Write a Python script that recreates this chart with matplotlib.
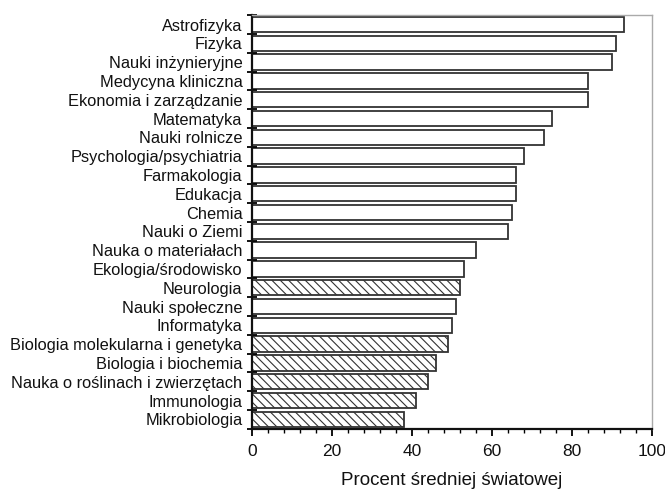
import numpy as np
import matplotlib
matplotlib.use('Agg')
import matplotlib.pyplot as plt
from matplotlib.ticker import MultipleLocator

plt.rcParams['font.family'] = ['Liberation Sans', 'DejaVu Sans']
plt.rcParams['hatch.linewidth'] = 0.8
plt.rcParams['hatch.color'] = '#444444'

# dziedziny (od gory do dolu)
fields = ["Astrofizyka", "Fizyka", "Nauki inżynieryjne", "Medycyna kliniczna",
          "Ekonomia i zarządzanie", "Matematyka", "Nauki rolnicze",
          "Psychologia/psychiatria", "Farmakologia", "Edukacja", "Chemia",
          "Nauki o Ziemi", "Nauka o materiałach", "Ekologia/środowisko",
          "Neurologia", "Nauki społeczne", "Informatyka",
          "Biologia molekularna i genetyka", "Biologia i biochemia",
          "Nauka o roślinach i zwierzętach", "Immunologia", "Mikrobiologia"]
values = [93, 91, 90, 84, 84, 75, 73, 68, 66, 66, 65, 64, 56, 53,
          52, 51, 50, 49, 46, 44, 41, 38]
hatched = [False, False, False, False, False, False, False, False, False,
           False, False, False, False, False, True, False, False, True,
           True, True, True, True]

fig = plt.figure(figsize=(6.65, 4.9), dpi=100)
ax = fig.add_axes([0.379, 0.125, 0.601, 0.844])

y = np.arange(len(fields))
for i in range(len(fields)):
    ax.barh(y[i], values[i], height=0.82, color='white', edgecolor='#333333',
            linewidth=1.3, hatch='\\\\\\\\' if hatched[i] else None)

ax.set_ylim(len(fields) - 0.5, -0.5)
ax.set_xlim(0, 100)

# etykiety osi y miedzy znacznikami na granicach kategorii
ax.set_yticks(y)
ax.set_yticklabels(fields, fontsize=11.8, color='#111111')
ax.tick_params(axis='y', which='major', length=0, pad=7)
ax.set_yticks(np.arange(len(fields) + 1) - 0.5, minor=True)
ax.tick_params(axis='y', which='minor', direction='inout', length=7, width=1.3)

ax.xaxis.set_major_locator(MultipleLocator(20))
ax.xaxis.set_minor_locator(MultipleLocator(4))
ax.tick_params(axis='x', which='major', direction='out', length=5, width=1.3,
               labelsize=12.5, pad=6, labelcolor='#111111')
ax.tick_params(axis='x', which='minor', direction='out', length=3, width=1.0)

for s in ['left', 'bottom']:
    ax.spines[s].set_linewidth(1.6)
    ax.spines[s].set_color('#111111')
for s in ['top', 'right']:
    ax.spines[s].set_linewidth(1.0)
    ax.spines[s].set_color('#aaaaaa')

ax.set_xlabel("Procent średniej światowej", fontsize=13.5, labelpad=9.5,
              color='#111111')

fig.savefig("out.png", dpi=100)
